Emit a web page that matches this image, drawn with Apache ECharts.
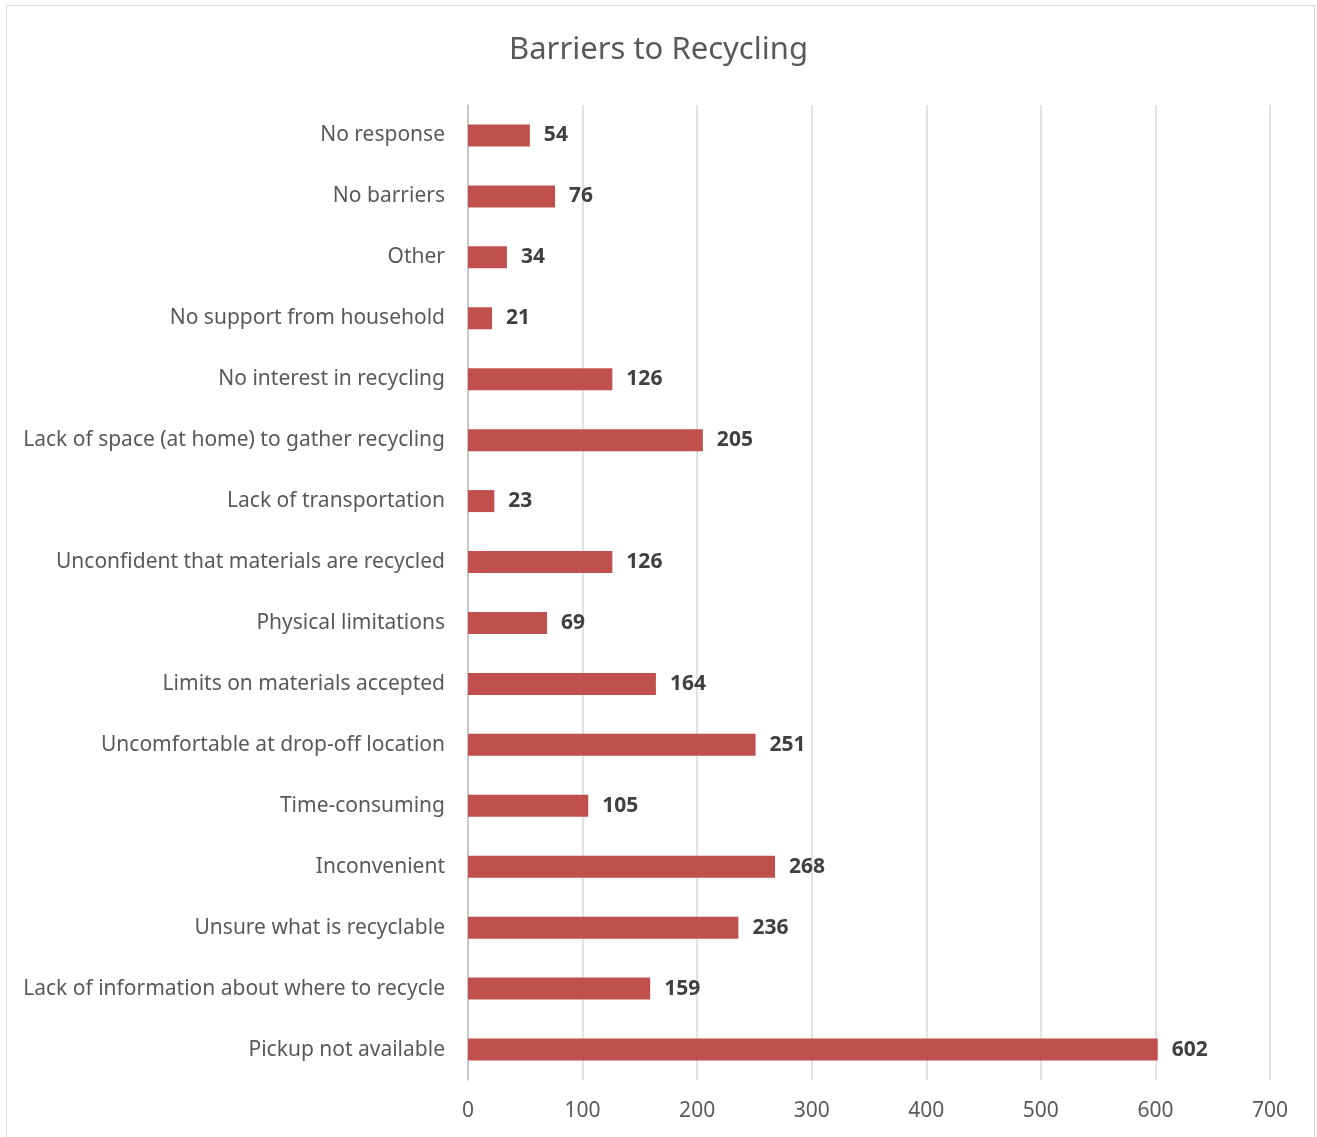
<!DOCTYPE html>
<html>
<head>
<meta charset="utf-8">
<script src="https://cdn.jsdelivr.net/npm/echarts@6/dist/echarts.min.js"></script>
<style>
html,body{margin:0;padding:0;background:#fff;}
#frame{position:absolute;left:6px;top:5px;width:1309px;height:1140px;border:1px solid #d9d9d9;box-sizing:border-box;}
#chart{position:absolute;left:0;top:0;width:1317px;height:1137px;}
</style>
</head>
<body>
<div id="frame"></div>
<div id="chart"></div>
<script>
const categories = [
  "No response",
  "No barriers",
  "Other",
  "No support from household",
  "No interest in recycling",
  "Lack of space (at home) to gather recycling",
  "Lack of transportation",
  "Unconfident that materials are recycled",
  "Physical limitations",
  "Limits on materials accepted",
  "Uncomfortable at drop-off location",
  "Time-consuming",
  "Inconvenient",
  "Unsure what is recyclable",
  "Lack of information about where to recycle",
  "Pickup not available"
];
const values = [54, 76, 34, 21, 126, 205, 23, 126, 69, 164, 251, 105, 268, 236, 159, 602];
const xTicks = [0, 100, 200, 300, 400, 500, 600, 700];

const chart = echarts.init(document.getElementById('chart'), null, {renderer: 'canvas'});
const font = '"Noto Sans", "Open Sans", sans-serif';
chart.setOption({
  animation: false,
  title: {
    text: 'Barriers to Recycling',
    left: 'center',
    top: 30,
    textStyle: {fontFamily: font, fontSize: 31, fontWeight: 'normal', color: '#595959'}
  },
  grid: {left: 468, right: 47, top: 105, bottom: 57, containLabel: false},
  xAxis: {
    type: 'value',
    min: xTicks[0],
    max: xTicks[xTicks.length - 1],
    interval: 100,
    axisLine: {show: false},
    axisTick: {show: false},
    splitLine: {show: true, lineStyle: {color: '#d9d9d9', width: 1.5}},
    axisLabel: {fontFamily: font, fontSize: 21, color: '#595959', margin: 21}
  },
  yAxis: {
    type: 'category',
    data: categories,
    inverse: true,
    axisLine: {show: true, lineStyle: {color: '#bfbfbf', width: 1.5}},
    axisTick: {show: false},
    axisLabel: {fontFamily: font, fontSize: 21, color: '#595959', margin: 23}
  },
  series: [{
    type: 'bar',
    data: values,
    barWidth: 22,
    itemStyle: {color: '#c0504d'},
    label: {
      show: true,
      position: 'right',
      distance: 14,
      fontFamily: font,
      fontSize: 21,
      fontWeight: 'bold',
      color: '#404040'
    }
  }]
});
</script>
</body>
</html>
